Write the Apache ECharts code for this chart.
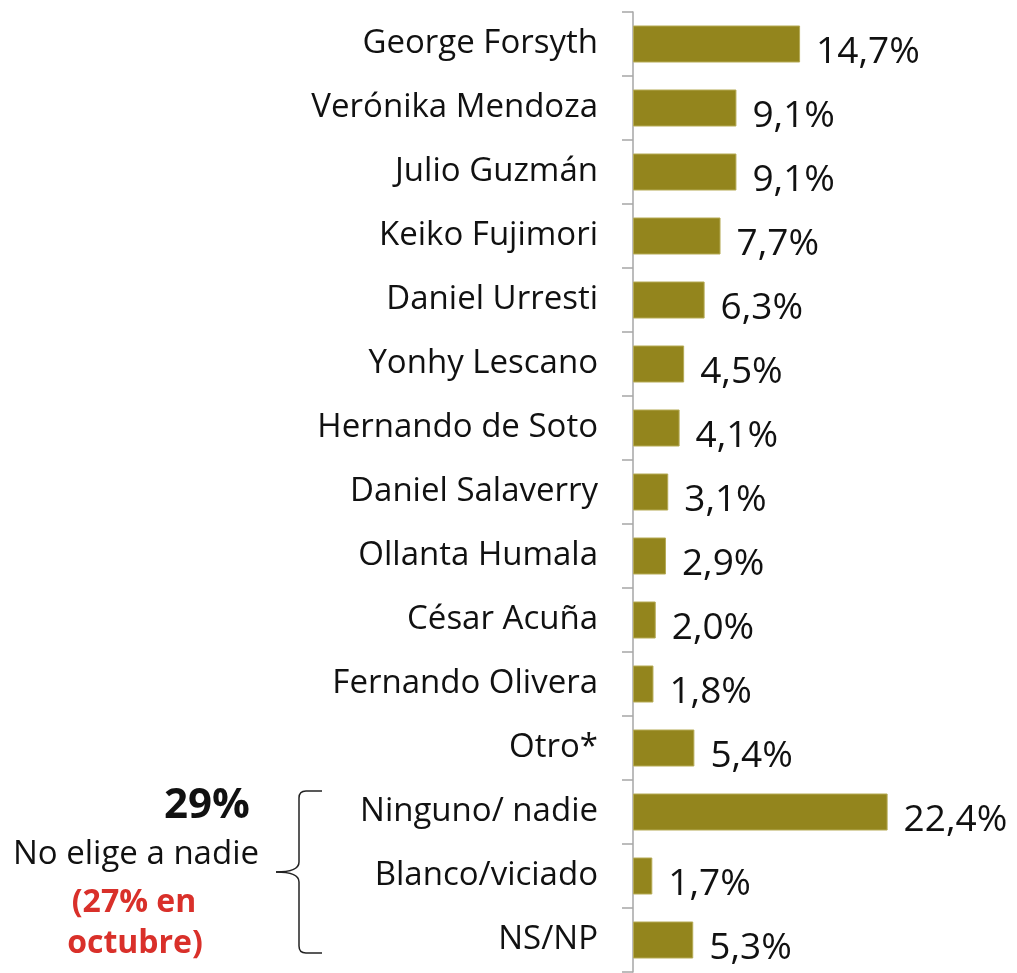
<!DOCTYPE html>
<html>
<head>
<meta charset="utf-8">
<script src="https://cdn.jsdelivr.net/npm/echarts@6/dist/echarts.min.js"></script>
<style>
  html, body { margin: 0; padding: 0; background: #fff; }
  #main { width: 1017px; height: 973px; }
</style>
</head>
<body>
<div id="main"></div>
<script>
// candidatos (de arriba hacia abajo)
var candidatos = ['George Forsyth', 'Verónika Mendoza', 'Julio Guzmán', 'Keiko Fujimori',
  'Daniel Urresti', 'Yonhy Lescano', 'Hernando de Soto', 'Daniel Salaverry',
  'Ollanta Humala', 'César Acuña', 'Fernando Olivera', 'Otro*',
  'Ninguno/ nadie', 'Blanco/viciado', 'NS/NP'];
var porcentajes = [14.7, 9.1, 9.1, 7.7, 6.3, 4.5, 4.1, 3.1, 2.9, 2.0, 1.8, 5.4, 22.4, 1.7, 5.3];

var FONT = 'Open Sans';
var myChart = echarts.init(document.getElementById('main'));

// llave "{" de la anotación
var braceStyle = { fill: 'none', stroke: '#222', lineWidth: 1.5 };
function seg(x1, y1, x2, y2, cx, cy) {
  return { type: 'bezierCurve', shape: { x1: x1, y1: y1, x2: x2, y2: y2, cpx1: cx, cpy1: cy }, style: braceStyle };
}

var option = {
  backgroundColor: '#fff',
  animation: false,
  grid: {
    left: 633,
    top: 12,
    width: 341,
    height: 960
  },
  xAxis: {
    type: 'value',
    min: 0,
    max: 30,
    show: false
  },
  yAxis: {
    type: 'category',
    inverse: true,
    data: candidatos,
    axisLine: { lineStyle: { color: '#a6a6a6', width: 1.5 } },
    axisTick: { show: true, length: 11, lineStyle: { color: '#a6a6a6', width: 1.5 } },
    axisLabel: {
      margin: 35,
      padding: [6, 0, 0, 0],
      fontFamily: FONT,
      fontSize: 33,
      color: '#111'
    }
  },
  series: [{
    type: 'bar',
    data: porcentajes,
    barWidth: 37,
    itemStyle: { color: '#93851d', borderColor: '#b5aa55', borderWidth: 1 },
    label: {
      show: true,
      position: 'right',
      distance: 16,
      offset: [0, 8],
      fontFamily: FONT,
      fontSize: 37,
      color: '#111',
      formatter: function (p) { return p.value.toFixed(1).replace('.', ',') + '%'; }
    }
  }],
  graphic: [
    { type: 'line', shape: { x1: 322, y1: 791, x2: 306, y2: 791 }, style: braceStyle },
    seg(306, 791, 299, 798, 299, 791),
    { type: 'line', shape: { x1: 299, y1: 798, x2: 299, y2: 862 }, style: braceStyle },
    seg(299, 862, 276, 872, 299, 872),
    seg(276, 872, 299, 882, 299, 872),
    { type: 'line', shape: { x1: 299, y1: 882, x2: 299, y2: 946 }, style: braceStyle },
    seg(299, 946, 306, 953, 299, 953),
    { type: 'line', shape: { x1: 306, y1: 953, x2: 322, y2: 953 }, style: braceStyle },
    {
      type: 'text', x: 207, y: 806,
      style: { text: '29%', fontFamily: FONT, fontWeight: 'bold', fontSize: 42, fill: '#111', align: 'center', verticalAlign: 'middle' }
    },
    {
      type: 'text', x: 136, y: 855,
      style: { text: 'No elige a nadie', fontFamily: FONT, fontSize: 33, fill: '#111', align: 'center', verticalAlign: 'middle' }
    },
    {
      type: 'text', x: 134, y: 903,
      style: { text: '(27% en', fontFamily: FONT, fontWeight: 'bold', fontSize: 32, fill: '#d9302a', align: 'center', verticalAlign: 'middle' }
    },
    {
      type: 'text', x: 135, y: 944,
      style: { text: 'octubre)', fontFamily: FONT, fontWeight: 'bold', fontSize: 32, fill: '#d9302a', align: 'center', verticalAlign: 'middle' }
    }
  ]
};

myChart.setOption(option);
</script>
</body>
</html>
